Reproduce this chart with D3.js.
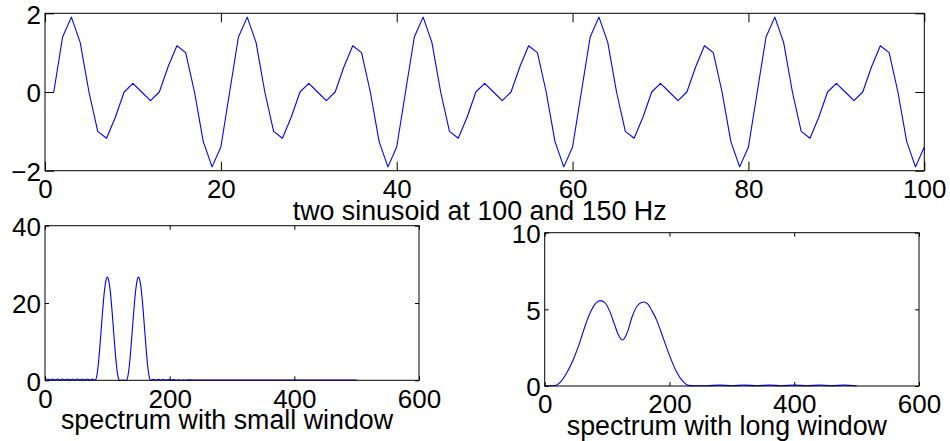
<!DOCTYPE html>
<html>
<head>
<meta charset="utf-8">
<script src="https://cdn.jsdelivr.net/npm/d3@7"></script>
<style>
  html, body { margin: 0; padding: 0; background: #fff; }
  svg { display: block; }
  text { font-family: "Liberation Sans", Arial, Helvetica, sans-serif; fill: #000; }
</style>
</head>
<body>
<svg id="chart" width="950" height="441"></svg>
<script>
// Sum of two sinusoids (100 Hz + 150 Hz sampled at 1 kHz), samples 1..100
const signal = [
  0, 1.3968, 1.9021, 1.2601, 0, -1, -1.1756, -0.6421, 0, 0.2212,
  0, -0.2212, 0, 0.6421, 1.1756, 1, 0, -1.2601, -1.9021, -1.3968,
  0, 1.3968, 1.9021, 1.2601, 0, -1, -1.1756, -0.6421, 0, 0.2212,
  0, -0.2212, 0, 0.6421, 1.1756, 1, 0, -1.2601, -1.9021, -1.3968,
  0, 1.3968, 1.9021, 1.2601, 0, -1, -1.1756, -0.6421, 0, 0.2212,
  0, -0.2212, 0, 0.6421, 1.1756, 1, 0, -1.2601, -1.9021, -1.3968,
  0, 1.3968, 1.9021, 1.2601, 0, -1, -1.1756, -0.6421, 0, 0.2212,
  0, -0.2212, 0, 0.6421, 1.1756, 1, 0, -1.2601, -1.9021, -1.3968,
  0, 1.3968, 1.9021, 1.2601, 0, -1, -1.1756, -0.6421, 0, 0.2212,
  0, -0.2212, 0, 0.6421, 1.1756, 1, 0, -1.2601, -1.9021, -1.3968
];
const signalTicksX = [0, 20, 40, 60, 80, 100];
const signalTicksY = [-2, 0, 2];

// Spectrum with small window (frequency in Hz, magnitude)
const smallFreq = [
  0, 4, 8, 12, 16, 20, 24, 28, 32, 36, 40, 44, 48, 52, 56, 60, 64, 68, 72, 76,
  80.5, 83, 85.5, 88, 90.5, 93, 95.5, 98, 100, 102, 104.5, 107, 109.5, 112, 114.5, 117, 119.5,
  125,
  130.5, 133, 135.5, 138, 140.5, 143, 145.5, 148, 150, 152, 154.5, 157, 159.5, 162, 164.5, 167, 169.5,
  174, 178, 182, 186, 190, 194, 198, 202, 206, 210, 214, 218, 222, 226, 230,
  250, 280, 320, 360, 400, 440, 480, 500
];
const smallMag = [
  0.2, 0.35, 0.05, 0.35, 0.05, 0.35, 0.05, 0.35, 0.05, 0.35, 0.05, 0.35, 0.05, 0.35, 0.05, 0.35, 0.05, 0.35, 0.05, 0.3,
  0, 1.07, 4.10, 8.64, 13.88, 19.07, 23.34, 26.01, 26.7, 26.01, 23.34, 19.07, 13.88, 8.64, 4.10, 1.07, 0,
  0,
  0, 1.07, 4.10, 8.64, 13.88, 19.07, 23.34, 26.01, 26.7, 26.01, 23.34, 19.07, 13.88, 8.64, 4.10, 1.07, 0,
  0.25, 0.03, 0.25, 0.03, 0.22, 0.03, 0.2, 0.03, 0.18, 0.03, 0.15, 0.03, 0.12, 0.03, 0.1,
  0.08, 0.08, 0.08, 0.08, 0.08, 0.08, 0.08, 0.08
];
const smallTicksX = [0, 200, 400, 600];
const smallTicksY = [0, 20, 40];

// Spectrum with long window (frequency in Hz, magnitude)
const longFreq = [
  0, 10, 17, 25, 35, 45, 55, 65, 75, 82, 89, 96, 104, 112, 118, 125, 132, 140, 148, 155,
  159, 165, 172, 180, 190, 200, 211, 222, 230, 240, 260, 280, 300, 320, 340, 360, 380, 400,
  420, 440, 460, 480, 500
];
const longMag = [
  0.02, 0.02, 0.03, 0.25, 0.83, 1.65, 2.7, 3.95, 4.95, 5.4, 5.57, 5.45, 4.9, 4.0, 3.35, 3.0, 3.45, 4.5, 5.2, 5.45,
  5.48, 5.35, 4.9, 4.25, 3.12, 2.0, 0.95, 0.28, 0.04, 0.02, 0.02, 0.06, 0.02, 0.06, 0.02, 0.06, 0.02, 0.06,
  0.02, 0.06, 0.02, 0.06, 0.02
];
const longTicksX = [0, 200, 400, 600];
const longTicksY = [0, 5, 10];

const titles = [
  "two sinusoid at 100 and 150 Hz",
  "spectrum with small window",
  "spectrum with long window"
];

const svg = d3.select("#chart");
const TICK_FONT = 26;
const CAPTION_FONT = 26.8;

function panel(opts) {
  const { left, right, top, bottom, xDomain, yDomain, xTicks, yTicks, tickLen, xs, ys, curve, title } = opts;
  const x = d3.scaleLinear().domain(xDomain).range([left, right]);
  const y = d3.scaleLinear().domain(yDomain).range([bottom, top]);
  const g = svg.append("g");

  // data line
  const line = d3.line().x(d => x(d[0])).y(d => y(d[1]));
  if (curve) line.curve(curve);
  g.append("path")
    .datum(xs.map((v, i) => [v, ys[i]]))
    .attr("fill", "none")
    .attr("stroke", "#0000ff")
    .attr("stroke-width", 1.1)
    .attr("stroke-linejoin", "round")
    .attr("d", line);

  const fmt = d3.format("");
  // bottom axis with labels, inward ticks
  const ax = g.append("g").attr("transform", `translate(0,${bottom})`)
    .call(d3.axisBottom(x).tickValues(xTicks).tickFormat(fmt).tickSizeInner(-tickLen).tickSizeOuter(0).tickPadding(9));
  // left axis with labels, inward ticks
  const ay = g.append("g").attr("transform", `translate(${left},0)`)
    .call(d3.axisLeft(y).tickValues(yTicks).tickFormat(fmt).tickSizeInner(-tickLen).tickSizeOuter(0).tickPadding(4));
  // top and right: ticks only
  const at = g.append("g").attr("transform", `translate(0,${top})`)
    .call(d3.axisTop(x).tickValues(xTicks).tickFormat("").tickSizeInner(-tickLen).tickSizeOuter(0));
  const ar = g.append("g").attr("transform", `translate(${right},0)`)
    .call(d3.axisRight(y).tickValues(yTicks).tickFormat("").tickSizeInner(-tickLen).tickSizeOuter(0));

  [ax, ay, at, ar].forEach(a => {
    a.select(".domain").remove();
    a.attr("font-family", null).attr("font-size", null);
    a.selectAll("line").attr("stroke", "#000").attr("stroke-width", 1);
    a.selectAll("text").style("font-size", TICK_FONT + "px").attr("fill", "#000");
  });
  ay.selectAll("text").attr("dy", "0.38em");

  // box
  g.append("rect")
    .attr("x", left).attr("y", top)
    .attr("width", right - left).attr("height", bottom - top)
    .attr("fill", "none").attr("stroke", "#000").attr("stroke-width", 1);

  // axis caption below tick labels
  g.append("text")
    .attr("x", (left + right) / 2 - 5)
    .attr("y", bottom + 49)
    .attr("text-anchor", "middle")
    .style("font-size", CAPTION_FONT + "px")
    .text(title);
}

panel({
  left: 45, right: 924.3, top: 13.3, bottom: 170.7,
  xDomain: [0, 100], yDomain: [-2, 2],
  xTicks: signalTicksX, yTicks: signalTicksY, tickLen: 9,
  xs: signal.map((_, i) => i + 1), ys: signal,
  title: titles[0]
});

panel({
  left: 45, right: 419, top: 225.7, bottom: 380.3,
  xDomain: [0, 600], yDomain: [0, 40],
  xTicks: smallTicksX, yTicks: smallTicksY, tickLen: 4,
  xs: smallFreq, ys: smallMag, curve: d3.curveMonotoneX,
  title: titles[1]
});

panel({
  left: 544.7, right: 919, top: 232.7, bottom: 386,
  xDomain: [0, 600], yDomain: [0, 10],
  xTicks: longTicksX, yTicks: longTicksY, tickLen: 4,
  xs: longFreq, ys: longMag, curve: d3.curveMonotoneX,
  title: titles[2]
});
</script>
</body>
</html>
